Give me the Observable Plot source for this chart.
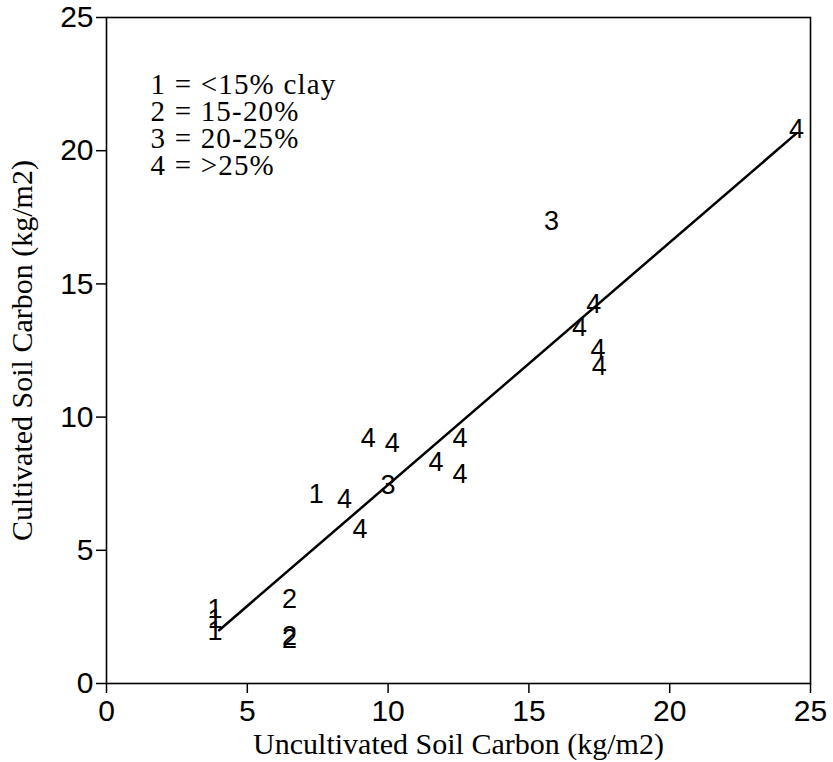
<!DOCTYPE html>
<html>
<head>
<meta charset="utf-8">
<script src="https://cdn.jsdelivr.net/npm/d3@7"></script>
<script src="https://cdn.jsdelivr.net/npm/@observablehq/plot@0.6"></script>
<style>
  html, body { margin: 0; padding: 0; background: white; }
</style>
</head>
<body>
<div id="chart"></div>
<script>
// Clay class codes (text labels for each point)
const clay = ["1","1","1","1", "2","2","2", "3","3",
  "4","4","4","4","4","4","4","4","4","4","4","4"];
// Uncultivated soil carbon (kg/m2)
const uncult = [3.85, 3.85, 3.85, 7.45, 6.5, 6.5, 6.5, 10.0, 15.8,
  8.45, 9.0, 9.3, 10.15, 11.7, 12.55, 12.55, 16.8, 17.3, 17.45, 17.5, 24.5];
// Cultivated soil carbon (kg/m2)
const cult = [2.8, 2.4, 1.95, 7.1, 3.15, 1.78, 1.66, 7.45, 17.35,
  6.9, 5.8, 9.2, 9.0, 8.3, 9.2, 7.85, 13.35, 14.25, 12.55, 11.9, 20.8];
// Fitted regression line endpoints
const fitX = [4.0, 24.5];
const fitY = [2.0, 20.65];
// Ticks
const xTicks = [0, 5, 10, 15, 20, 25];
const yTicks = [0, 5, 10, 15, 20, 25];
// Texts
const legendLines = ["1 = <15% clay", "2 = 15-20%", "3 = 20-25%", "4 = >25%"];
const xTitle = "Uncultivated Soil Carbon (kg/m2)";
const yTitle = "Cultivated Soil Carbon (kg/m2)";

const points = clay.map((c, i) => ({code: c, x: uncult[i], y: cult[i]}));
const fit = fitX.map((x, i) => ({x, y: fitY[i]}));

const serif = "'Liberation Serif', 'Times New Roman', serif";
const sans = "'Liberation Sans', Arial, Helvetica, sans-serif";

const chart = Plot.plot({
  width: 833,
  height: 762,
  marginLeft: 106,
  marginRight: 23,
  marginTop: 17,
  marginBottom: 79,
  style: {fontFamily: sans, fontSize: "30px", color: "black", background: "white"},
  x: {domain: [0, 25]},
  y: {domain: [0, 25]},
  marks: [
    Plot.frame({stroke: "black", strokeWidth: 1.6}),
    Plot.axisX(xTicks, {tickSize: 10, tickPadding: 6, label: null, fontSize: 30, strokeWidth: 1.5}),
    Plot.axisY(yTicks, {tickSize: 10, tickPadding: 3, label: null, fontSize: 30, strokeWidth: 1.5}),
    Plot.line(fit, {x: "x", y: "y", stroke: "black", strokeWidth: 2.5}),
    Plot.text(points, {x: "x", y: "y", text: "code", fontSize: 27, fontFamily: sans, fill: "black"}),
    Plot.text([legendLines.join("\n")], {
      text: d => d, frameAnchor: "top-left", dx: 44, dy: 57,
      lineAnchor: "top", textAnchor: "start", lineHeight: 27 / 29,
      fontFamily: serif, fontSize: 29, fill: "black"
    }),
    Plot.text([xTitle], {text: d => d, frameAnchor: "bottom", dy: 61, lineAnchor: "middle", textAnchor: "middle", fontFamily: serif, fontSize: 30, fill: "black"}),
    Plot.text([yTitle], {text: d => d, frameAnchor: "left", dx: -84, rotate: -90, lineAnchor: "middle", textAnchor: "middle", fontFamily: serif, fontSize: 30, fill: "black"})
  ]
});
// widen the legend lettering slightly, as in the reference
chart.querySelectorAll("text").forEach(t => {
  if (t.textContent.includes("clay")) t.style.letterSpacing = "1.2px";
});
document.getElementById("chart").appendChild(chart);
</script>
</body>
</html>
